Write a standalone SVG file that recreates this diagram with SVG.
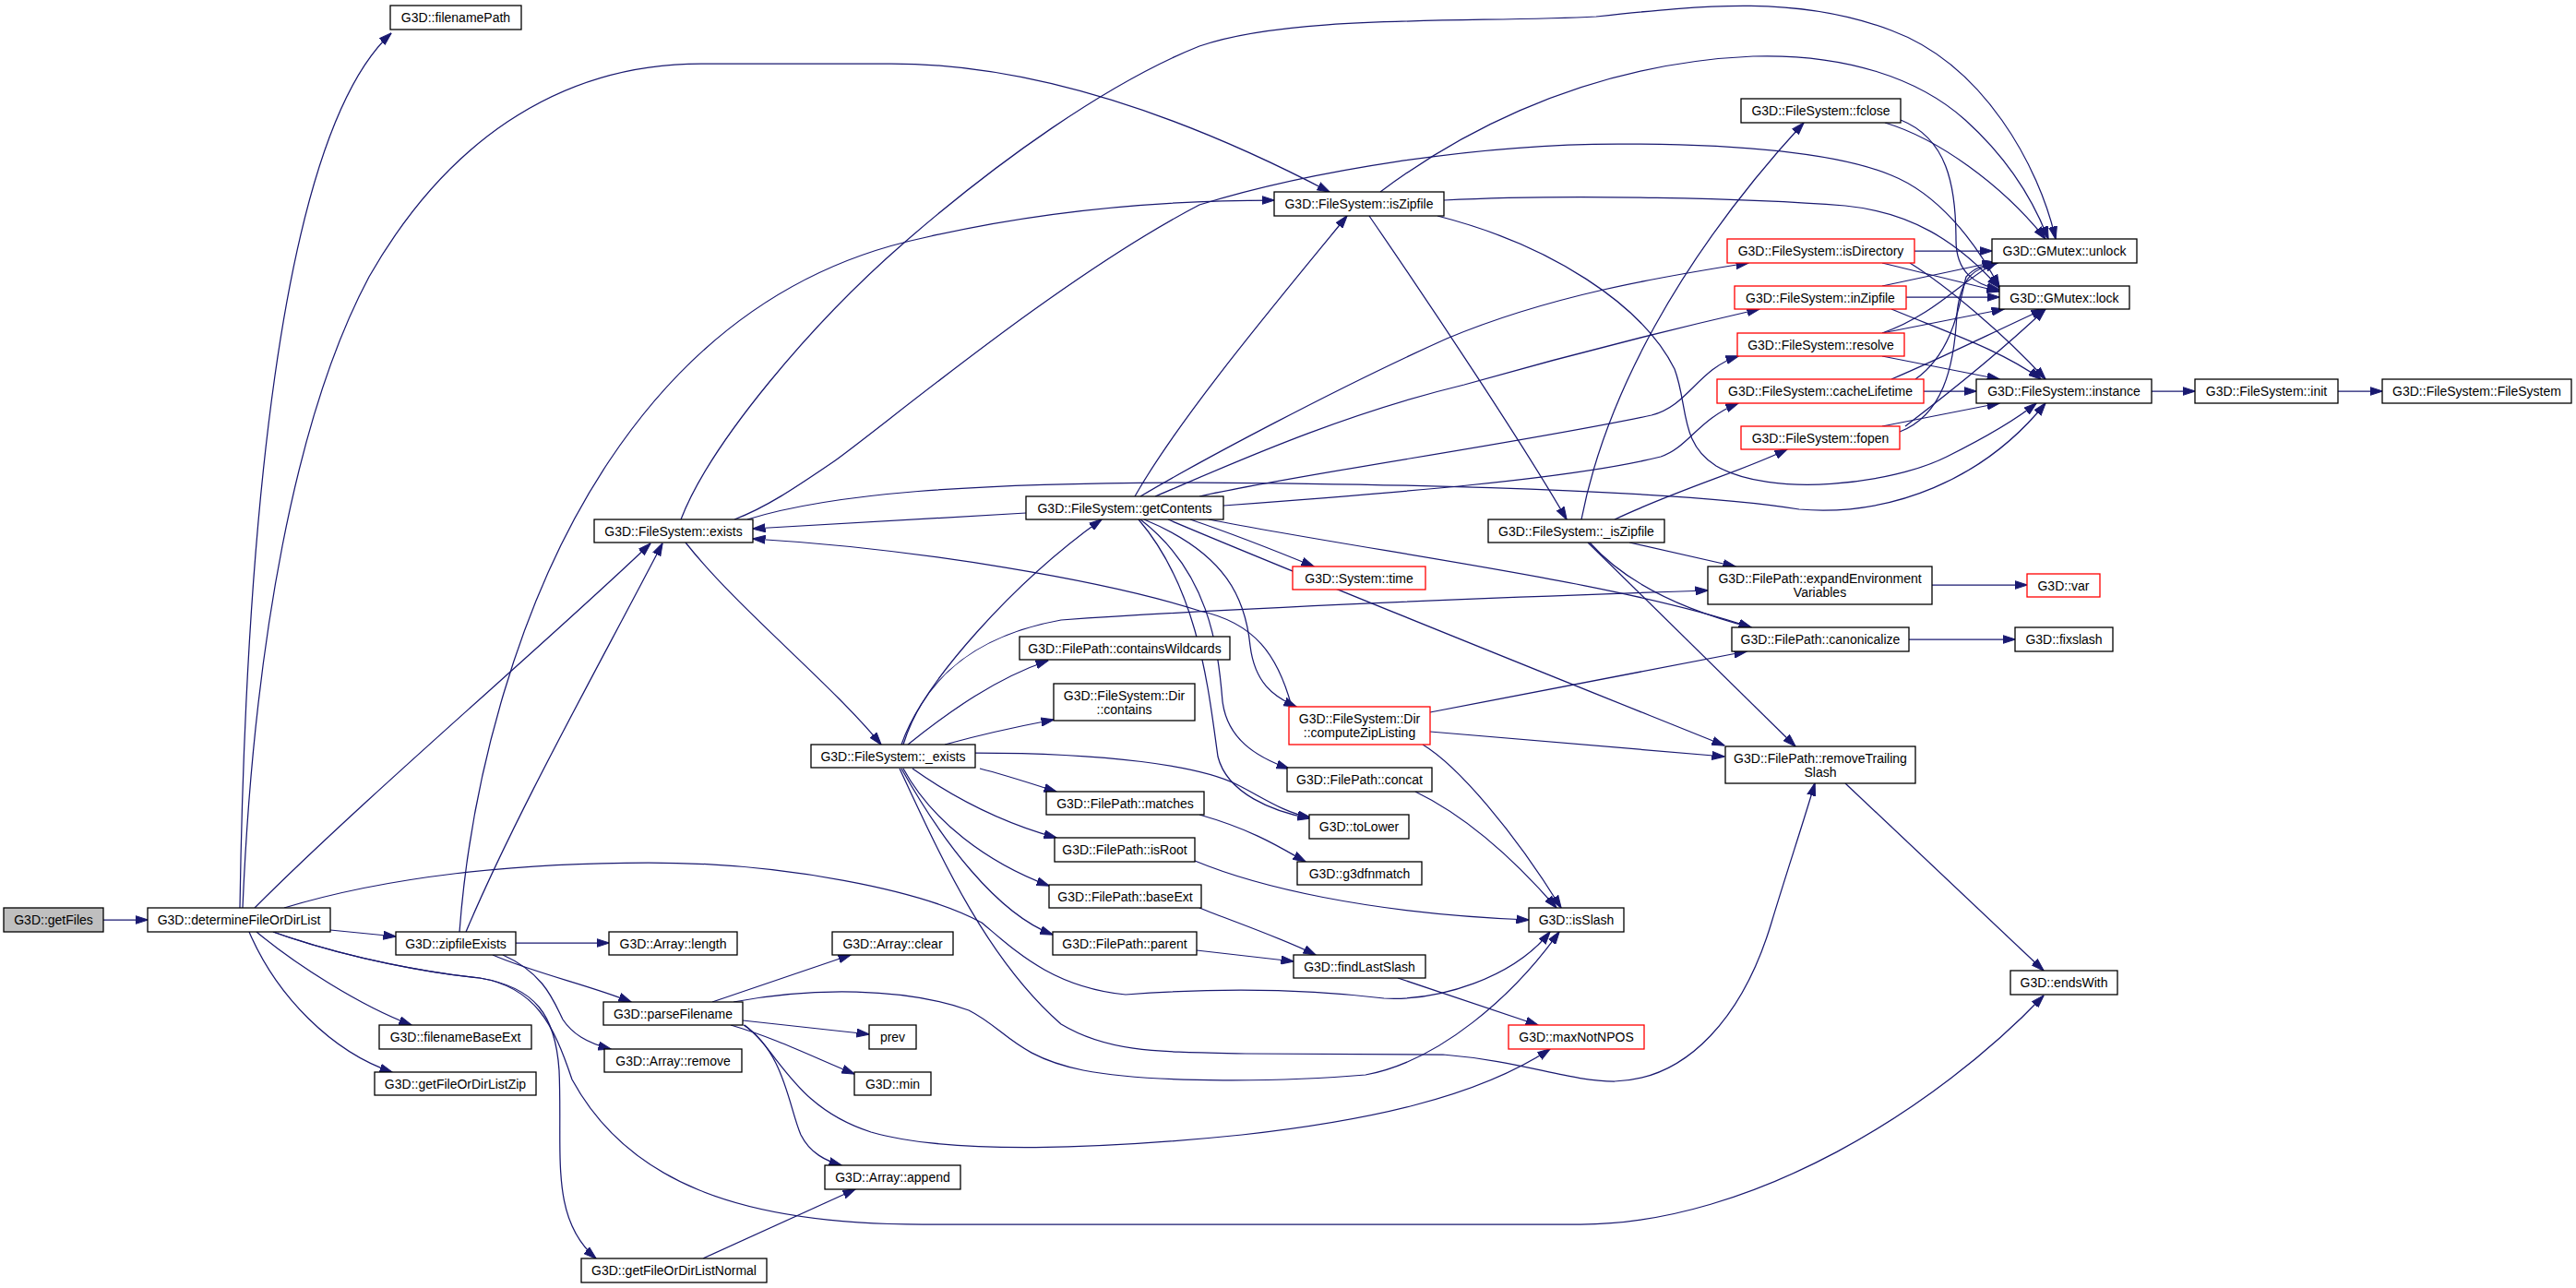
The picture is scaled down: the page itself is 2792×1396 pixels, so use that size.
<svg xmlns="http://www.w3.org/2000/svg" width="2792" height="1396" viewBox="0 0 2792 1396">
<defs>
<style>
.n rect{fill:#fff;stroke:#000;stroke-width:1.3}
.r rect{stroke:#f00}
.g rect{fill:#bfbfbf}
text{font-family:"Liberation Sans",Arial,sans-serif;font-size:14px;fill:#000;text-anchor:middle}
.e path{fill:none;stroke:#191970;stroke-width:1.25;marker-end:url(#ah)}
</style>
<marker id="ah" viewBox="0 0 14 10" refX="13.5" refY="5" markerWidth="14" markerHeight="10" orient="auto" markerUnits="userSpaceOnUse"><path d="M0,0.5 L14,5 L0,9.5 z" fill="#191970" stroke="#191970" stroke-width="1"/></marker>
</defs>
<rect width="2792" height="1396" fill="#fff"/>
<g id="edges" class="e">
<path d="M112,997 L160,997"/>
<path d="M260,984 C266,600 300,150 424,36"/>
<path d="M263,984 C275,700 320,450 400,300 C480,160 600,69 760,69 L966,69 C1150,69 1330,150 1441,208"/>
<path d="M276,984 C400,860 600,690 705,589"/>
<path d="M308,984 C420,950 560,935 703,935 C850,935 1000,965 1064,1000 C1100,1030 1140,1070 1220,1078 C1300,1072 1400,1070 1500,1082 C1560,1085 1640,1060 1680,1010"/>
<path d="M358,1008 L429,1015"/>
<path d="M278,1010 C320,1045 390,1090 446,1111"/>
<path d="M270,1010 C300,1080 360,1140 425,1162"/>
<path d="M296,1010 C380,1040 470,1055 520,1060 C580,1070 602,1100 606,1160 C610,1250 595,1320 646,1364"/>
<path d="M296,1010 C380,1040 470,1055 520,1060 C580,1070 600,1110 620,1170 C680,1280 800,1327 1000,1327 L1713,1327 C1900,1327 2100,1200 2215,1079"/>
<path d="M559,1022 L660,1022"/>
<path d="M534,1035 C580,1055 640,1068 684,1086"/>
<path d="M545,1035 C590,1055 600,1085 610,1105 C620,1120 635,1130 662,1137"/>
<path d="M505,1010 C560,880 650,720 718,589"/>
<path d="M498,1010 C510,850 560,650 660,500 C740,380 850,290 1000,258 C1120,230 1250,217 1381,217"/>
<path d="M743,588 C800,660 900,740 955,807"/>
<path d="M738,563 C770,480 880,350 980,263 C1080,176 1200,90 1300,50 C1400,15 1600,25 1730,18 C1850,5 1950,-5 2050,33 C2150,70 2210,180 2228,259"/>
<path d="M796,563 C830,550 860,530 904,500 C960,460 1150,300 1300,222 C1420,185 1600,156 1754,156 C1880,156 1990,165 2050,190 C2100,210 2140,260 2167,311"/>
<path d="M810,563 C900,535 1050,523 1300,523 C1600,525 1850,535 1950,552 C2050,560 2150,520 2217,437"/>
<path d="M1112,556 C1000,562 900,568 816,573"/>
<path d="M1400,766 C1385,710 1360,675 1300,662 C1200,630 1000,595 816,584"/>
<path d="M977,807 C1000,740 1100,630 1194,563"/>
<path d="M979,807 C1000,740 1050,690 1150,672 C1400,655 1700,645 1851,640"/>
<path d="M984,807 C1030,770 1080,735 1136,716"/>
<path d="M1024,807 C1060,797 1100,788 1142,780"/>
<path d="M1057,816 C1200,816 1300,830 1340,850 C1370,865 1390,880 1420,886"/>
<path d="M1062,833 C1090,840 1120,850 1145,858"/>
<path d="M989,833 C1030,862 1080,890 1145,908"/>
<path d="M979,833 C1010,890 1070,935 1137,960"/>
<path d="M977,833 C1020,910 1080,990 1141,1013"/>
<path d="M975,833 C1020,930 1070,1040 1150,1110 C1200,1140 1250,1140 1350,1142 L1564,1143 C1650,1150 1700,1172 1750,1172 C1830,1170 1890,1100 1920,1000 C1935,950 1955,890 1967,849"/>
<path d="M795,1086 C880,1070 980,1070 1050,1095 C1090,1115 1100,1145 1174,1160 C1250,1175 1400,1172 1480,1165 C1560,1150 1640,1080 1690,1010"/>
<path d="M805,1106 L942,1121"/>
<path d="M772,1086 L922,1035"/>
<path d="M792,1111 C840,1125 880,1145 926,1164"/>
<path d="M806,1111 C850,1140 855,1200 868,1230 C878,1250 895,1258 912,1263"/>
<path d="M807,1111 C845,1140 860,1200 944,1227 C1030,1252 1200,1245 1346,1230 C1480,1215 1600,1190 1680,1137"/>
<path d="M762,1364 L927,1289"/>
<path d="M1230,538 C1280,450 1390,320 1460,234"/>
<path d="M1236,538 C1300,500 1450,420 1568,367 C1680,320 1800,300 1895,285"/>
<path d="M1252,538 C1330,505 1450,450 1587,417 C1700,385 1820,355 1907,335"/>
<path d="M1300,538 C1400,515 1650,480 1790,450 C1830,440 1840,400 1884,386"/>
<path d="M1326,548 C1500,535 1700,520 1800,495 C1830,485 1840,455 1884,437"/>
<path d="M1290,563 C1340,580 1390,600 1424,614"/>
<path d="M1310,563 C1500,600 1750,630 1898,680"/>
<path d="M1266,563 C1400,620 1700,740 1869,808"/>
<path d="M1240,563 C1330,600 1350,650 1355,700 C1360,740 1380,755 1405,766"/>
<path d="M1236,563 C1310,620 1320,700 1325,760 C1330,800 1360,820 1397,833"/>
<path d="M1234,563 C1300,640 1310,750 1320,820 C1330,860 1380,880 1420,887"/>
<path d="M1484,234 C1550,330 1650,480 1698,563"/>
<path d="M1496,208 C1560,160 1700,70 1900,61 C2000,58 2080,85 2130,130 C2180,175 2205,220 2220,259"/>
<path d="M1565,217 C1700,210 1900,215 2000,223 C2070,230 2120,260 2167,312"/>
<path d="M1558,234 C1680,265 1780,330 1815,400 C1830,440 1820,480 1860,505 C1920,540 2050,525 2110,495 C2150,475 2185,455 2207,437"/>
<path d="M1714,563 C1740,430 1820,280 1955,133"/>
<path d="M1750,563 C1820,530 1890,510 1937,487"/>
<path d="M1766,588 L1881,614"/>
<path d="M1723,588 C1760,630 1820,660 1898,680"/>
<path d="M1721,588 L1946,809"/>
<path d="M1550,772 L1893,706"/>
<path d="M1550,793 L1869,820"/>
<path d="M1542,807 C1580,830 1640,900 1692,984"/>
<path d="M1534,858 C1590,885 1640,930 1687,984"/>
<path d="M1295,933 C1360,960 1480,990 1657,997"/>
<path d="M1300,883 C1360,900 1390,920 1415,934"/>
<path d="M1300,984 C1340,1000 1390,1017 1426,1035"/>
<path d="M1297,1030 L1402,1042"/>
<path d="M1515,1060 L1667,1111"/>
<path d="M2043,133 C2100,150 2170,200 2217,259"/>
<path d="M2060,130 C2110,150 2120,200 2120,260 C2120,295 2140,308 2167,314"/>
<path d="M2075,272 L2159,272"/>
<path d="M2040,285 L2167,316"/>
<path d="M2070,285 C2110,310 2170,360 2217,411"/>
<path d="M2040,310 L2162,284"/>
<path d="M2066,322 L2167,322"/>
<path d="M2050,335 C2110,360 2170,380 2212,411"/>
<path d="M2040,361 C2100,340 2130,300 2165,284"/>
<path d="M2040,361 L2172,335"/>
<path d="M2040,386 L2167,411"/>
<path d="M2076,411 C2120,380 2125,320 2131,300 C2140,290 2150,287 2165,285"/>
<path d="M2050,411 C2100,390 2150,365 2215,335"/>
<path d="M2085,424 L2142,424"/>
<path d="M2059,468 C2105,450 2118,400 2121,340 C2125,300 2140,290 2165,285"/>
<path d="M2065,462 C2120,420 2180,370 2217,335"/>
<path d="M2040,462 L2167,437"/>
<path d="M2332,424 L2379,424"/>
<path d="M2534,424 L2582,424"/>
<path d="M2094,634 L2197,634"/>
<path d="M2069,693 L2184,693"/>
<path d="M2000,849 L2215,1052"/>
</g>
<g id="getFiles" class="n g"><rect x="4" y="984" width="108" height="26"/><text x="58" y="1002">G3D::getFiles</text></g>
<g id="determineFileOrDirList" class="n"><rect x="160" y="984" width="198" height="26"/><text x="259" y="1002">G3D::determineFileOrDirList</text></g>
<g id="filenamePath" class="n"><rect x="423" y="6" width="142" height="26"/><text x="494" y="24">G3D::filenamePath</text></g>
<g id="zipfileExists" class="n"><rect x="429" y="1010" width="130" height="25"/><text x="494" y="1027.5">G3D::zipfileExists</text></g>
<g id="filenameBaseExt" class="n"><rect x="411" y="1111" width="165" height="26"/><text x="493.5" y="1129">G3D::filenameBaseExt</text></g>
<g id="getFileOrDirListZip" class="n"><rect x="406" y="1162" width="175" height="25"/><text x="493.5" y="1179.5">G3D::getFileOrDirListZip</text></g>
<g id="getFileOrDirListNormal" class="n"><rect x="630" y="1364" width="201" height="26"/><text x="730.5" y="1382">G3D::getFileOrDirListNormal</text></g>
<g id="exists" class="n"><rect x="644" y="563" width="172" height="25"/><text x="730" y="580.5">G3D::FileSystem::exists</text></g>
<g id="Array_length" class="n"><rect x="660" y="1010" width="139" height="25"/><text x="729.5" y="1027.5">G3D::Array::length</text></g>
<g id="parseFilename" class="n"><rect x="654" y="1086" width="151" height="25"/><text x="729.5" y="1103.5">G3D::parseFilename</text></g>
<g id="Array_remove" class="n"><rect x="655" y="1137" width="149" height="25"/><text x="729.5" y="1154.5">G3D::Array::remove</text></g>
<g id="Array_clear" class="n"><rect x="902" y="1010" width="131" height="25"/><text x="967.5" y="1027.5">G3D::Array::clear</text></g>
<g id="prev" class="n"><rect x="942" y="1111" width="51" height="26"/><text x="967.5" y="1129">prev</text></g>
<g id="min" class="n"><rect x="926" y="1162" width="83" height="25"/><text x="967.5" y="1179.5">G3D::min</text></g>
<g id="Array_append" class="n"><rect x="894" y="1263" width="147" height="26"/><text x="967.5" y="1281">G3D::Array::append</text></g>
<g id="_exists" class="n"><rect x="879" y="807" width="178" height="25"/><text x="968" y="824.5">G3D::FileSystem::_exists</text></g>
<g id="getContents" class="n"><rect x="1112" y="538" width="214" height="25"/><text x="1219" y="555.5">G3D::FileSystem::getContents</text></g>
<g id="containsWildcards" class="n"><rect x="1105" y="690" width="228" height="25"/><text x="1219" y="707.5">G3D::FilePath::containsWildcards</text></g>
<g id="Dir_contains" class="n"><rect x="1142" y="741" width="153" height="40"/><text x="1218.5" y="758.5">G3D::FileSystem::Dir</text><text x="1218.5" y="773.5">::contains</text></g>
<g id="matches" class="n"><rect x="1134" y="858" width="171" height="25"/><text x="1219.5" y="875.5">G3D::FilePath::matches</text></g>
<g id="isRoot" class="n"><rect x="1143" y="908" width="152" height="26"/><text x="1219" y="926">G3D::FilePath::isRoot</text></g>
<g id="baseExt" class="n"><rect x="1137" y="959" width="165" height="25"/><text x="1219.5" y="976.5">G3D::FilePath::baseExt</text></g>
<g id="parent" class="n"><rect x="1141" y="1010" width="156" height="25"/><text x="1219" y="1027.5">G3D::FilePath::parent</text></g>
<g id="isZipfile" class="n"><rect x="1381" y="208" width="184" height="26"/><text x="1473" y="226">G3D::FileSystem::isZipfile</text></g>
<g id="System_time" class="n r"><rect x="1401" y="614" width="144" height="25"/><text x="1473" y="631.5">G3D::System::time</text></g>
<g id="computeZipListing" class="n r"><rect x="1397" y="766" width="153" height="41"/><text x="1473.5" y="784">G3D::FileSystem::Dir</text><text x="1473.5" y="799">::computeZipListing</text></g>
<g id="concat" class="n"><rect x="1395" y="832" width="157" height="26"/><text x="1473.5" y="850">G3D::FilePath::concat</text></g>
<g id="toLower" class="n"><rect x="1419" y="883" width="108" height="26"/><text x="1473" y="901">G3D::toLower</text></g>
<g id="g3dfnmatch" class="n"><rect x="1406" y="934" width="135" height="25"/><text x="1473.5" y="951.5">G3D::g3dfnmatch</text></g>
<g id="findLastSlash" class="n"><rect x="1402" y="1035" width="143" height="25"/><text x="1473.5" y="1052.5">G3D::findLastSlash</text></g>
<g id="_isZipfile" class="n"><rect x="1613" y="563" width="191" height="25"/><text x="1708.5" y="580.5">G3D::FileSystem::_isZipfile</text></g>
<g id="isSlash" class="n"><rect x="1657" y="984" width="103" height="26"/><text x="1708.5" y="1002">G3D::isSlash</text></g>
<g id="maxNotNPOS" class="n r"><rect x="1635" y="1111" width="147" height="26"/><text x="1708.5" y="1129">G3D::maxNotNPOS</text></g>
<g id="fclose" class="n"><rect x="1887" y="107" width="173" height="26"/><text x="1973.5" y="125">G3D::FileSystem::fclose</text></g>
<g id="isDirectory" class="n r"><rect x="1872" y="259" width="203" height="26"/><text x="1973.5" y="277">G3D::FileSystem::isDirectory</text></g>
<g id="inZipfile" class="n r"><rect x="1880" y="310" width="186" height="25"/><text x="1973" y="327.5">G3D::FileSystem::inZipfile</text></g>
<g id="resolve" class="n r"><rect x="1883" y="361" width="181" height="25"/><text x="1973.5" y="378.5">G3D::FileSystem::resolve</text></g>
<g id="cacheLifetime" class="n r"><rect x="1861" y="411" width="224" height="26"/><text x="1973" y="429">G3D::FileSystem::cacheLifetime</text></g>
<g id="fopen" class="n r"><rect x="1887" y="462" width="172" height="25"/><text x="1973" y="479.5">G3D::FileSystem::fopen</text></g>
<g id="expandEnvironmentVariables" class="n"><rect x="1851" y="614" width="243" height="41"/><text x="1972.5" y="632">G3D::FilePath::expandEnvironment</text><text x="1972.5" y="647">Variables</text></g>
<g id="canonicalize" class="n"><rect x="1877" y="680" width="192" height="26"/><text x="1973" y="698">G3D::FilePath::canonicalize</text></g>
<g id="removeTrailingSlash" class="n"><rect x="1870" y="809" width="206" height="40"/><text x="1973" y="826.5">G3D::FilePath::removeTrailing</text><text x="1973" y="841.5">Slash</text></g>
<g id="endsWith" class="n"><rect x="2179" y="1052" width="116" height="26"/><text x="2237" y="1070">G3D::endsWith</text></g>
<g id="GMutex_unlock" class="n"><rect x="2159" y="259" width="157" height="26"/><text x="2237.5" y="277">G3D::GMutex::unlock</text></g>
<g id="GMutex_lock" class="n"><rect x="2167" y="310" width="141" height="25"/><text x="2237.5" y="327.5">G3D::GMutex::lock</text></g>
<g id="instance" class="n"><rect x="2142" y="411" width="190" height="26"/><text x="2237" y="429">G3D::FileSystem::instance</text></g>
<g id="var" class="n r"><rect x="2197" y="622" width="79" height="25"/><text x="2236.5" y="639.5">G3D::var</text></g>
<g id="fixslash" class="n"><rect x="2184" y="680" width="106" height="26"/><text x="2237" y="698">G3D::fixslash</text></g>
<g id="init" class="n"><rect x="2379" y="411" width="155" height="26"/><text x="2456.5" y="429">G3D::FileSystem::init</text></g>
<g id="FileSystem" class="n"><rect x="2582" y="411" width="205" height="26"/><text x="2684.5" y="429">G3D::FileSystem::FileSystem</text></g>
</svg>
